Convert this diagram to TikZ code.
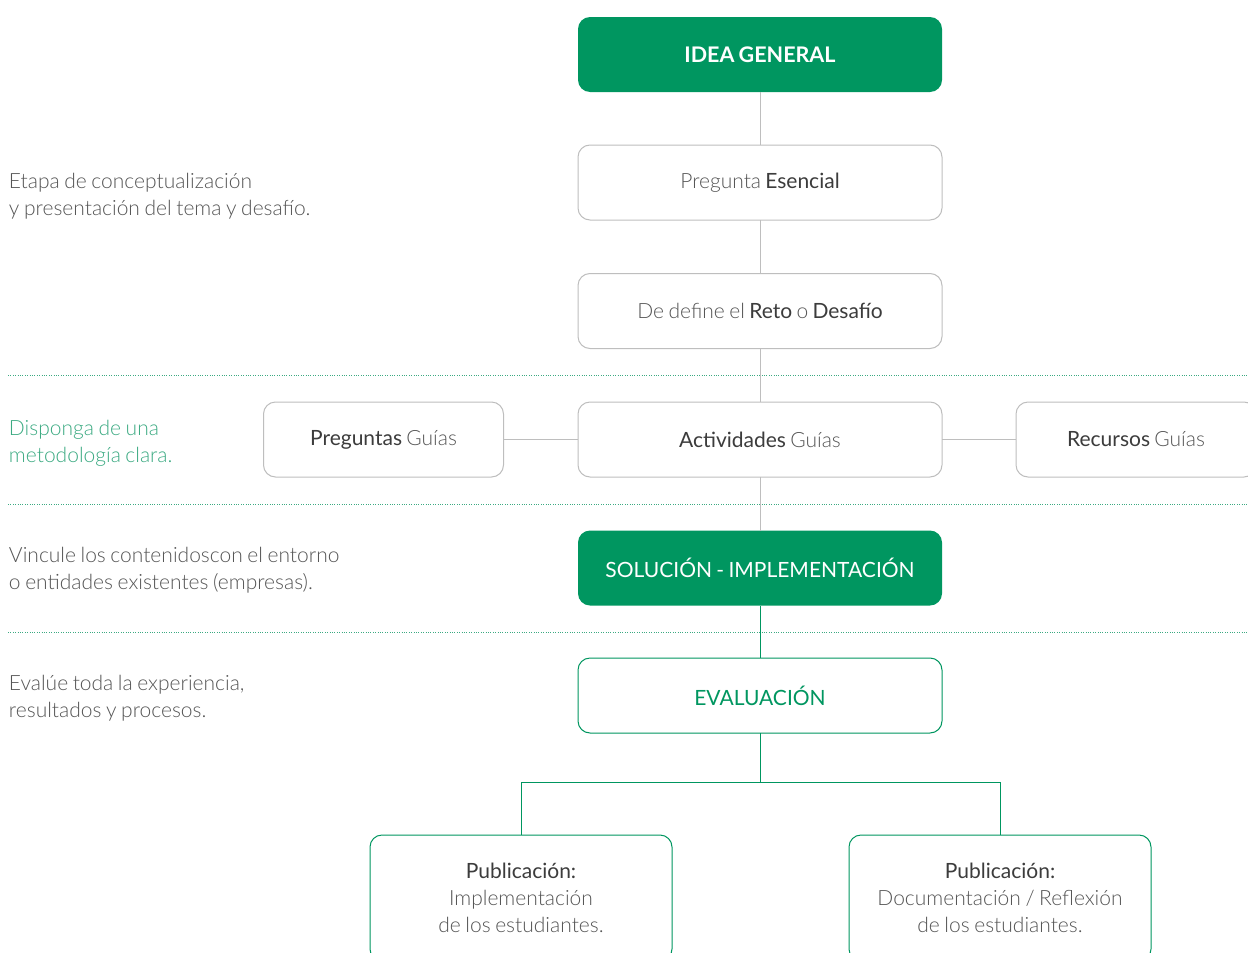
\documentclass[tikz,border=0pt]{standalone}
\usepackage{fontspec}
\setmainfont{Lato}[WordSpace=0.8]
\newfontfamily\lt{Lato Light}[WordSpace=0.8]
\definecolor{vgreen}{RGB}{0,150,96}
\definecolor{dotg}{RGB}{60,170,130}
\definecolor{boxgray}{RGB}{190,190,190}
\definecolor{txtdark}{RGB}{60,60,60}
\definecolor{txtlight}{RGB}{85,85,85}
\begin{document}
\begin{tikzpicture}[x=1pt,y=-1pt,
  every node/.style={inner sep=0pt,outer sep=0pt,font=\fontsize{21}{27}\selectfont},
  box/.style={rectangle,rounded corners=12pt,minimum width=364pt,minimum height=75pt,align=center,line width=1pt},
  greybox/.style={box,draw=boxgray,fill=white,text=txtdark},
  greenbox/.style={box,fill=vgreen,text=white},
  outlinebox/.style={box,draw=vgreen,fill=white,text=vgreen},
  smallbox/.style={greybox,minimum width=240pt},
  pubbox/.style={box,draw=vgreen,fill=white,text=txtdark,minimum width=302pt,minimum height=126pt},
  side/.style={anchor=west,align=left,text=txtlight,font=\lt\fontsize{21}{27}\selectfont},
  greyline/.style={draw=boxgray,line width=1pt},
  greenline/.style={draw=vgreen,line width=1pt},
  sep/.style={draw=dotg,line width=0.8pt,dash pattern=on 0.8pt off 1.6pt}
]
\useasboundingbox (0,0) rectangle (1248,953);
\clip (0,0) rectangle (1248,953);
% separators
\draw[sep] (8,375) -- (1248,375);
\draw[sep] (8,504) -- (1248,504);
\draw[sep] (8,632) -- (1248,632);
% side texts
\node[side] (t1) at (9,196) {Etapa de conceptualización\\y presentación del tema y desafío.};
\node[side,text=dotg] (t2) at (9,443) {Disponga de una\\metodología clara.};
\node[side] (t3) at (9,570) {Vincule los contenidoscon el entorno\\o entidades existentes (empresas).};
\node[side] (t4) at (9,698) {Evalúe toda la experiencia,\\resultados y procesos.};
% boxes
\node[greenbox,font=\bfseries\fontsize{21.5}{27}\selectfont] (idea) at (760,54.5) {IDEA GENERAL};
\node[greybox] (preg) at (760,182.5) {{\lt\color{txtlight}Pregunta} Esencial};
\node[greybox] (reto) at (760,311) {{\lt\color{txtlight}De define el} Reto {\lt\color{txtlight}o} Desafío};
\node[smallbox] (pg) at (383.5,439.5) {Preguntas {\lt\color{txtlight}Guías}};
\node[greybox] (act) at (760,439.5) {Actividades {\lt\color{txtlight}Guías}};
\node[smallbox] (rg) at (1136,439.5) {Recursos {\lt\color{txtlight}Guías}};
\node[greenbox] (sol) at (760,568) {SOLUCIÓN - IMPLEMENTACIÓN};
\node[outlinebox] (eval) at (760,695.5) {EVALUACIÓN};
\node[pubbox] (pub1) at (521,898) {Publicación:\\{\lt\color{txtlight}Implementación}\\{\lt\color{txtlight}de los estudiantes.}};
\node[pubbox] (pub2) at (1000,898) {Publicación:\\{\lt\color{txtlight}Documentación / Reflexión}\\{\lt\color{txtlight}de los estudiantes.}};
\coordinate (split) at (760,782);
% connectors
\draw[greyline] (idea) -- (preg);
\draw[greyline] (preg) -- (reto);
\draw[greyline] (reto) -- (act);
\draw[greyline] (act) -- (sol);
\draw[greyline] (pg) -- (act);
\draw[greyline] (act) -- (rg);
\draw[greenline] (sol) -- (eval);
\draw[greenline] (eval) -- (split);
\draw[greenline] (split) -| (pub1.north);
\draw[greenline] (split) -| (pub2.north);
\end{tikzpicture}
\end{document}
